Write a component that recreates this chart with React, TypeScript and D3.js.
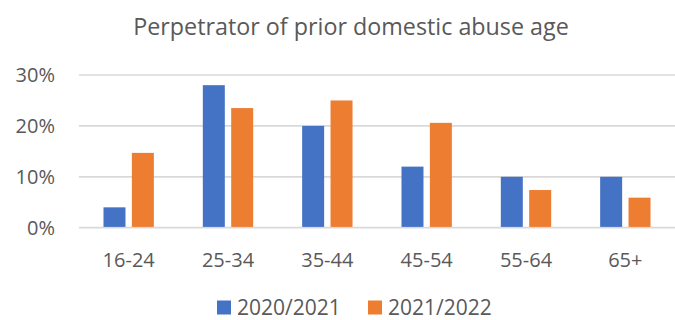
import React from "react";
import * as d3 from "d3";

const categories = ["16-24", "25-34", "35-44", "45-54", "55-64", "65+"];
const seriesNames = ["2020/2021", "2021/2022"];
const values2020 = [0.04, 0.28, 0.2, 0.12, 0.1, 0.1];
const values2021 = [0.147, 0.235, 0.25, 0.206, 0.074, 0.059];
const yTicks = [0, 0.1, 0.2, 0.3];
const colors = ["#4472C4", "#ED7D31"];
const title = "Perpetrator of prior domestic abuse age";

const W = 675;
const H = 320;
const FONT = "'Open Sans', sans-serif";
const TEXT = "#595959";

export default function App() {
  const x0 = d3
    .scaleBand<string>()
    .domain(categories)
    .range([79, 675])
    .paddingInner(0.493)
    .paddingOuter(0.2465);
  const x1 = d3
    .scaleBand<string>()
    .domain(seriesNames)
    .range([0, x0.bandwidth()])
    .paddingInner(0.225);
  const y = d3.scaleLinear().domain([0, 0.3]).range([227.7, 75]);
  const fmt = d3.format(".0%");
  const series = [values2020, values2021];

  return (
    <svg
      width={W}
      height={H}
      style={{ position: "fixed", left: 0, top: 0, background: "#fff" }}
      fontFamily={FONT}
    >
      <rect x={0} y={0} width={W} height={H} fill="#fff" />
      <text x={351} y={35} textAnchor="middle" fontSize={23.3} fill={TEXT}>
        {title}
      </text>
      {yTicks.map((t) => (
        <g key={t}>
          <line x1={79} x2={675} y1={y(t)} y2={y(t)} stroke="#D9D9D9" strokeWidth={1.7} />
          <text x={55} y={y(t) + 7} textAnchor="end" fontSize={20} fill={TEXT}>
            {fmt(t)}
          </text>
        </g>
      ))}
      {categories.map((c, i) => (
        <g key={c} transform={`translate(${x0(c)},0)`}>
          {seriesNames.map((s, j) => (
            <rect
              key={s}
              x={x1(s)}
              y={y(series[j][i])}
              width={x1.bandwidth()}
              height={y(0) - y(series[j][i]) - 0.8}
              fill={colors[j]}
            />
          ))}
          <text
            x={x0.bandwidth() / 2}
            y={266.5}
            textAnchor="middle"
            fontSize={20}
            fill={TEXT}
          >
            {c}
          </text>
        </g>
      ))}
      {seriesNames.map((s, j) => {
        const lx = [217, 368][j];
        return (
          <g key={s}>
            <rect x={lx} y={300.5} width={14} height={14} fill={colors[j]} />
            <text x={lx + 20} y={314.5} fontSize={21} fill={TEXT}>
              {s}
            </text>
          </g>
        );
      })}
    </svg>
  );
}
